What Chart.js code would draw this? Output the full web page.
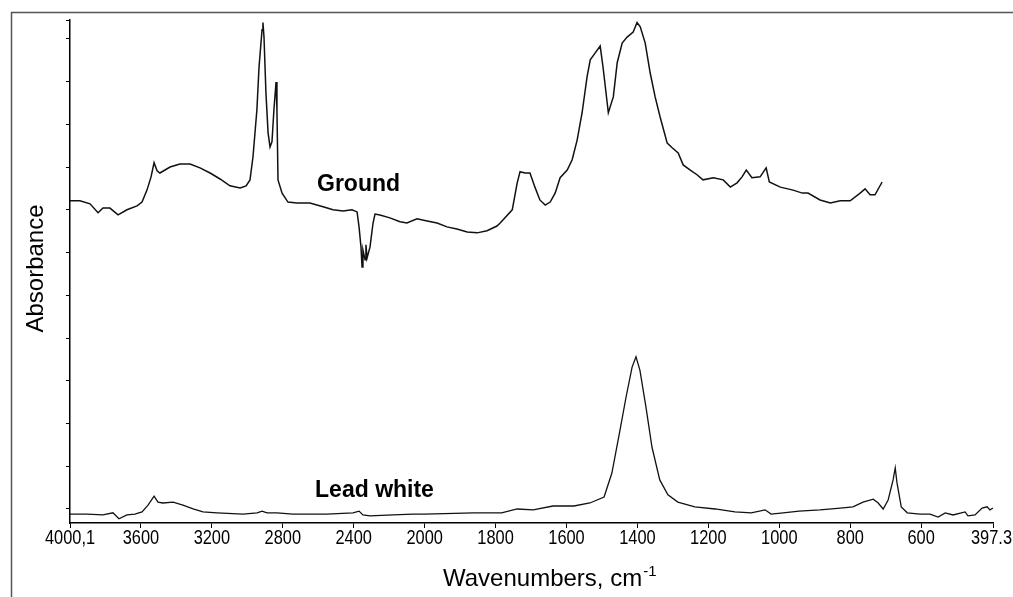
<!DOCTYPE html>
<html>
<head>
<meta charset="utf-8">
<script src="https://cdn.jsdelivr.net/npm/chart.js@4.4.0/dist/chart.umd.min.js"></script>
<style>
  html, body { margin: 0; padding: 0; background: #fff; }
  #wrap { width: 1013px; height: 597px; }
</style>
</head>
<body>
<div id="wrap"><canvas id="myChart" width="1013" height="597"></canvas></div>
<script>
// FTIR spectra, wavenumbers in cm-1, absorbance (offset, arbitrary)
const groundWave = [
  4000, 3944, 3887, 3842, 3814, 3775, 3729, 3679, 3622, 3594,
  3566, 3543, 3526, 3509, 3493, 3436, 3380, 3323, 3267, 3210,
  3154, 3098, 3041, 3007, 2985, 2968, 2946, 2934, 2917, 2912,
  2906, 2895, 2883, 2872, 2861, 2850, 2838, 2833, 2827, 2804,
  2771, 2720, 2647, 2573, 2517, 2460, 2410, 2381, 2370, 2359,
  2353, 2348, 2336, 2331, 2325, 2308, 2291, 2280, 2252, 2196,
  2139, 2100, 2043, 1993, 1965, 1937, 1909, 1880, 1852, 1824,
  1796, 1787, 1753, 1739, 1731, 1717, 1703, 1689, 1675, 1660,
  1646, 1632, 1618, 1598, 1584, 1570, 1556, 1542, 1533, 1519,
  1505, 1497, 1482, 1468, 1457, 1443, 1429, 1412, 1401, 1392,
  1378, 1364, 1350, 1336, 1316, 1302, 1285, 1271, 1251, 1232,
  1215, 1186, 1158, 1138, 1119, 1105, 1093, 1077, 1054, 1037,
  1028, 997, 961, 935, 919, 885, 856, 828, 800, 772,
  758, 744, 730, 710
];
const groundAbs = [
  0.721, 0.721, 0.714, 0.693, 0.704, 0.704, 0.688, 0.700, 0.709, 0.718,
  0.746, 0.777, 0.810, 0.791, 0.786, 0.800, 0.807, 0.807, 0.798, 0.786,
  0.772, 0.756, 0.751, 0.756, 0.770, 0.824, 0.934, 1.034, 1.121, 1.138,
  1.104, 0.973, 0.880, 0.847, 0.859, 0.934, 0.999, 0.934, 0.770, 0.739,
  0.718, 0.716, 0.716, 0.707, 0.700, 0.697, 0.700, 0.695, 0.660, 0.613,
  0.566, 0.606, 0.583, 0.618, 0.587, 0.613, 0.669, 0.690, 0.688, 0.681,
  0.672, 0.669, 0.679, 0.674, 0.669, 0.660, 0.655, 0.648, 0.646, 0.651,
  0.662, 0.669, 0.700, 0.763, 0.789, 0.786, 0.786, 0.753, 0.723, 0.711,
  0.718, 0.739, 0.775, 0.793, 0.817, 0.863, 0.927, 1.011, 1.051, 1.067,
  1.083, 1.034, 0.927, 0.964, 1.044, 1.090, 1.104, 1.116, 1.138, 1.128,
  1.090, 1.020, 0.964, 0.917, 0.856, 0.845, 0.833, 0.805, 0.793, 0.782,
  0.770, 0.775, 0.770, 0.753, 0.763, 0.777, 0.793, 0.775, 0.777, 0.798,
  0.765, 0.753, 0.746, 0.739, 0.739, 0.723, 0.716, 0.721, 0.721, 0.739,
  0.749, 0.735, 0.735, 0.765
];
const leadWave = [
  4000, 3904, 3814, 3758, 3724, 3679, 3634, 3594, 3560, 3526,
  3504, 3476, 3419, 3363, 3306, 3250, 3171, 3024, 2945, 2917,
  2889, 2833, 2743, 2551, 2404, 2370, 2348, 2308, 2178, 2066,
  2000, 1862, 1783, 1739, 1694, 1638, 1579, 1534, 1494, 1472,
  1449, 1432, 1415, 1404, 1393, 1376, 1359, 1337, 1314, 1286,
  1238, 1181, 1125, 1079, 1040, 1023, 989, 944, 885, 828,
  792, 764, 735, 721, 707, 693, 679, 673, 668, 656,
  639, 603, 575, 552, 532, 510, 476, 468, 448, 428,
  414, 406, 397.3
];
const leadAbs = [
  -0.012, -0.012, -0.014, -0.009, -0.023, -0.014, -0.012, -0.007, 0.009, 0.030,
  0.016, 0.014, 0.016, 0.009, 0.000, -0.007, -0.009, -0.012, -0.009, -0.005,
  -0.009, -0.009, -0.012, -0.012, -0.009, -0.005, -0.014, -0.016, -0.014, -0.012,
  -0.012, -0.009, -0.009, 0.000, -0.002, 0.007, 0.007, 0.014, 0.028, 0.084,
  0.185, 0.262, 0.332, 0.356, 0.325, 0.239, 0.145, 0.068, 0.033, 0.016,
  0.005, 0.000, -0.007, -0.009, -0.002, -0.012, -0.009, -0.005, -0.002, 0.002,
  0.005, 0.016, 0.023, 0.014, 0.000, 0.021, 0.068, 0.096, 0.061, 0.005,
  -0.009, -0.012, -0.012, -0.019, -0.009, -0.014, -0.007, -0.016, -0.014, 0.002,
  0.005, -0.002, 0.002
];
const xTickWaves = [4000.1, 3600, 3200, 2800, 2400, 2000, 1800, 1600, 1400, 1200, 1000, 800, 600, 397.3];
const xTickLabels = ['4000,1', '3600', '3200', '2800', '2400', '2000', '1800', '1600', '1400', '1200', '1000', '800', '600', '397.3'];
const yTickValues = [0, 0.1, 0.2, 0.3, 0.4, 0.5, 0.6, 0.7, 0.8, 0.9, 1.0, 1.1, 1.144];

// spectrometer axis: the range above 2000 cm-1 is compressed by half
function toU(w) {
  return w > 2000 ? 2000 + (w - 2000) / 2 : w;
}

function labelForU(value) {
  const i = xTickWaves.findIndex(w => Math.abs(toU(w) - value) < 0.01);
  return i >= 0 ? xTickLabels[i] : '';
}

const FONT = "'Liberation Sans', Arial, Helvetica, sans-serif";

function initSpectrumChart() {
  const ctx = document.getElementById('myChart');

  const toPoints = (waves, abs) => waves.map((w, i) => ({ x: toU(w), y: abs[i] }));

  const labelsPlugin = {
    id: 'spectrumLabels',
    afterDraw(chart) {
      const c = chart.ctx;
      const area = chart.chartArea;
      const xs = chart.scales.x;
      const ys = chart.scales.y;
      c.save();

      // outer frame
      c.strokeStyle = '#555';
      c.lineWidth = 1.5;
      c.beginPath();
      c.moveTo(11.5, 597);
      c.lineTo(11.5, 12.5);
      c.lineTo(1013, 12.5);
      c.stroke();

      c.fillStyle = '#000';

      // x tick labels, narrow face (condensed Arial look)
      const squeeze = 0.78;
      c.font = '21px ' + FONT;
      c.textAlign = 'center';
      c.textBaseline = 'top';
      xs.ticks.forEach(t => {
        const label = labelForU(t.value);
        let px = xs.getPixelForValue(t.value);
        const half = c.measureText(label).width * squeeze / 2;
        if (px + half > chart.width - 1) px = chart.width - 1 - half;
        c.save();
        c.translate(px, area.bottom + 5);
        c.scale(squeeze, 1);
        c.fillText(label, 0, 0);
        c.restore();
      });

      // y title
      c.font = '24px ' + FONT;
      c.textAlign = 'center';
      c.textBaseline = 'middle';
      c.save();
      c.translate(36, (area.top + area.bottom) / 2 - 3);
      c.rotate(-Math.PI / 2);
      c.fillText('Absorbance', 0, 0);
      c.restore();

      // x title with superscript
      c.textAlign = 'left';
      c.textBaseline = 'alphabetic';
      const main = 'Wavenumbers, cm';
      const tx = area.left + 373;
      const ty = area.bottom + 63;
      c.font = '24px ' + FONT;
      c.fillText(main, tx, ty);
      const mw = c.measureText(main).width;
      c.font = '15px ' + FONT;
      c.fillText('-1', tx + mw + 1, ty - 10);

      // series labels
      c.font = 'bold 23px ' + FONT;
      c.textBaseline = 'middle';
      c.fillText('Ground', xs.getPixelForValue(toU(2607)), ys.getPixelForValue(0.758));
      c.fillText('Lead white', xs.getPixelForValue(toU(2618)), ys.getPixelForValue(0.044));

      c.restore();
    }
  };

  const config = {
    type: 'line',
    data: {
      datasets: [
        {
          label: 'Ground',
          data: toPoints(groundWave, groundAbs),
          borderColor: '#111',
          borderWidth: 1.5,
          pointRadius: 0,
          tension: 0,
          fill: false
        },
        {
          label: 'Lead white',
          data: toPoints(leadWave, leadAbs),
          borderColor: '#111',
          borderWidth: 1.3,
          pointRadius: 0,
          tension: 0,
          fill: false
        }
      ]
    },
    options: {
      responsive: false,
      animation: false,
      devicePixelRatio: 1,
      parsing: false,
      layout: { padding: { top: 20, right: 20, left: 0, bottom: 0 } },
      plugins: {
        legend: { display: false },
        title: { display: false },
        tooltip: { enabled: false }
      },
      scales: {
        x: {
          type: 'linear',
          reverse: true,
          min: toU(397.3),
          max: toU(4000.1),
          afterBuildTicks: (s) => { s.ticks = xTickWaves.map(w => ({ value: toU(w) })); },
          afterFit: (s) => { s.height = 74; s.paddingLeft = 0; s.paddingRight = 0; },
          ticks: { display: false, autoSkip: false },
          grid: { drawOnChartArea: false, drawTicks: true, tickLength: 5, color: '#000', lineWidth: 1 },
          border: { display: true, color: '#000', width: 1.5 }
        },
        y: {
          type: 'linear',
          min: -0.0328,
          max: 1.144,
          afterBuildTicks: (s) => { s.ticks = yTickValues.map(v => ({ value: v })); },
          afterFit: (s) => { s.width = 70; s.paddingTop = 0; s.paddingBottom = 0; },
          ticks: { display: false },
          grid: { drawOnChartArea: false, drawTicks: true, tickLength: 4, color: '#000', lineWidth: 1 },
          border: { display: true, color: '#000', width: 1.5 }
        }
      }
    },
    plugins: [labelsPlugin]
  };

  window.spectrumChart = new Chart(ctx, config);
}

initSpectrumChart();
</script>
</body>
</html>
